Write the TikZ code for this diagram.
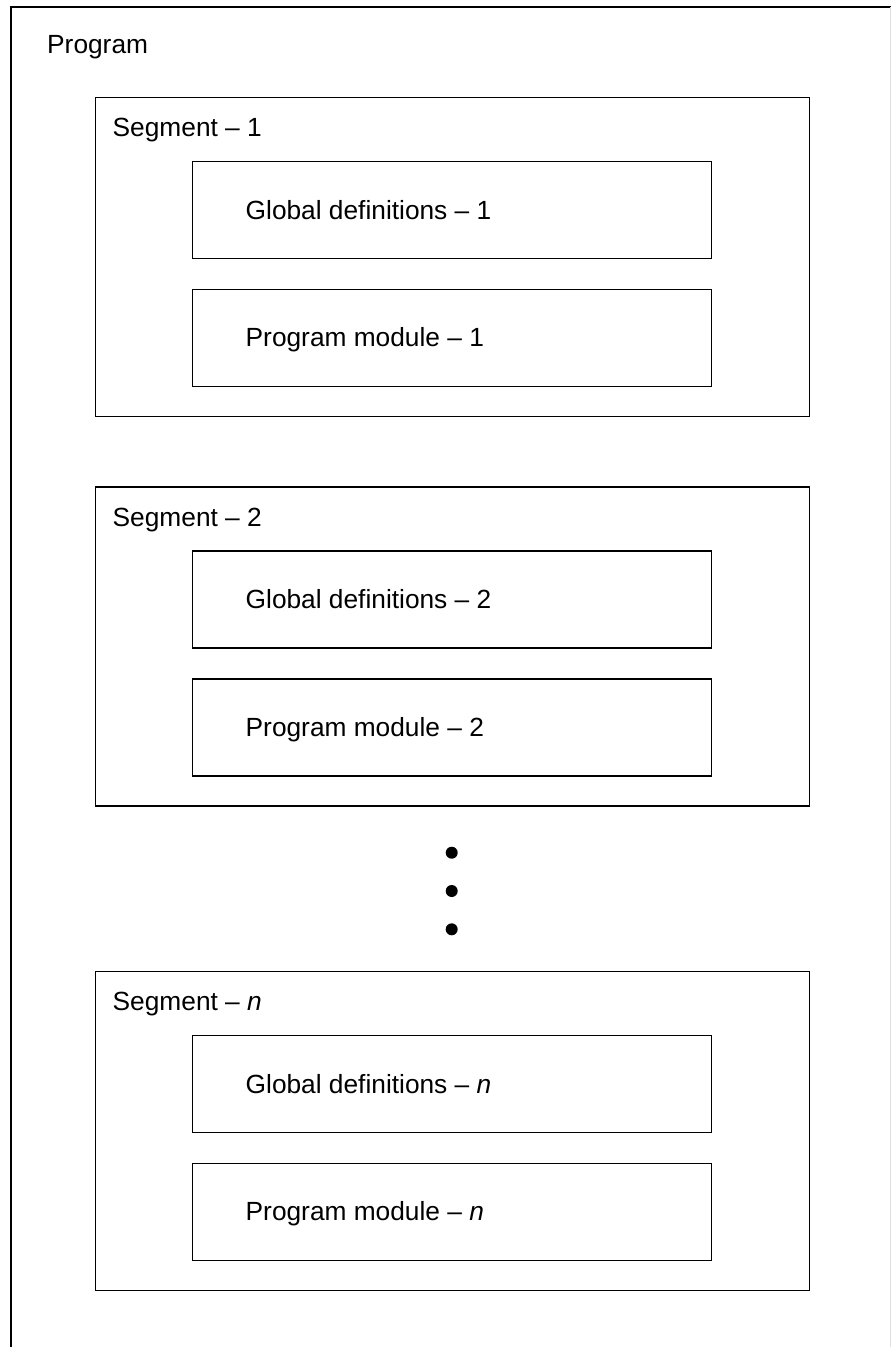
\documentclass[tikz,border=0pt]{standalone}
\usepackage{fontspec}
\setmainfont{Liberation Sans}
\begin{document}
\begin{tikzpicture}[x=1pt,y=-1pt,
  segbox/.style={draw, line width=1.4pt, anchor=north west, minimum width=714pt, minimum height=319pt, inner sep=0pt},
  partbox/.style={draw, line width=1.4pt, anchor=north west, minimum width=519pt, minimum height=97pt, inner sep=0pt},
  lbl/.style={anchor=base west, inner sep=0pt, font=\fontsize{26.3}{31}\selectfont},
  dot/.style={circle, fill=black, minimum size=12pt, inner sep=0pt}]
\useasboundingbox (0,0) rectangle (891,1347);
% outer program frame (open at the bottom)
\draw[line width=2.4pt] (11,1347) -- (11,6.8) -- (891,6.8);
\draw[line width=1pt, black!12] (890.5,6.8) -- (890.5,1347);
\node[lbl] (prog) at (47,53.3) {Program};

% segment 1
\node[segbox] (seg1) at (94.7,96.7) {};
\node[lbl] (seg1l) at (112.5,136.5) {Segment -- 1};
\node[partbox] (glob1) at (191.7,160.7) {};
\node[lbl] (glob1l) at (245.5,219.3) {Global definitions -- 1};
\node[partbox] (mod1) at (191.7,288.7) {};
\node[lbl] (mod1l) at (245.5,346.5) {Program module -- 1};

% segment 2
\node[segbox] (seg2) at (94.7,486.2) {};
\node[lbl] (seg2l) at (112.5,526) {Segment -- 2};
\node[partbox] (glob2) at (191.7,550.2) {};
\node[lbl] (glob2l) at (245.5,608.8) {Global definitions -- 2};
\node[partbox] (mod2) at (191.7,678.2) {};
\node[lbl] (mod2l) at (245.5,736) {Program module -- 2};

% ellipsis
\node[dot] (d1) at (451.7,852.7) {};
\node[dot] (d2) at (451.7,891) {};
\node[dot] (d3) at (451.7,929.3) {};

% segment n
\node[segbox] (segn) at (94.7,970.5) {};
\node[lbl] (segnl) at (112.5,1010.3) {Segment -- \textit{n}};
\node[partbox] (globn) at (191.7,1034.5) {};
\node[lbl] (globnl) at (245.5,1093.1) {Global definitions -- \textit{n}};
\node[partbox] (modn) at (191.7,1162.5) {};
\node[lbl] (modnl) at (245.5,1220.3) {Program module -- \textit{n}};
\end{tikzpicture}
\end{document}
